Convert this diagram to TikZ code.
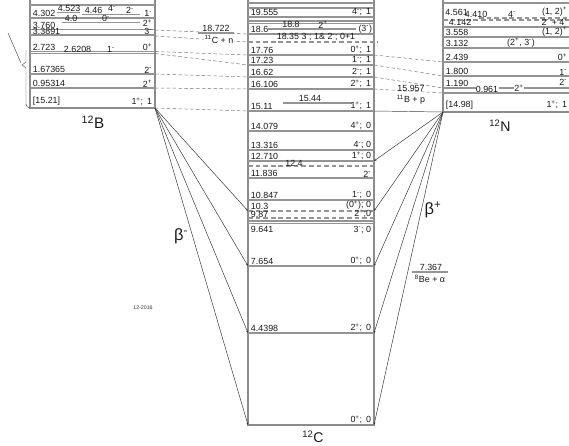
\documentclass[tikz,border=0pt]{standalone}
\usepackage{fontspec}
\setmainfont{Liberation Sans}
\usetikzlibrary{arrows.meta,positioning,calc}
\newcommand{\sPlus}{\textsuperscript{+}}
\newcommand{\sMinus}{\textsuperscript{-}}

\begin{document}
\begin{tikzpicture}[x=0.03cm, y=-0.03cm,
  lvl/.style={draw=black!42, line width=1.1pt},
  lvldash/.style={draw=black!42, line width=0.9pt, dash pattern=on 4pt off 2.5pt},
  frame/.style={draw=black!45, line width=1pt},
  elab/.style={font=\fontsize{7.6}{8}\selectfont, text=black!90, inner sep=0.6pt, anchor=south west},
  jlab/.style={elab, anchor=south east},
  clab/.style={elab, anchor=south},
  link/.style={draw=black!55, line width=0.4pt, dash pattern=on 3pt off 2pt},
  decay/.style={draw=black!80, line width=0.4pt, -{Stealth[length=2.2pt,width=1.6pt]}},
  nucl/.style={font=\fontsize{12}{14}\selectfont, text=black!90, inner sep=0pt},
  note/.style={font=\fontsize{7.6}{8}\selectfont, text=black!90, inner sep=0.6pt},
]
  \useasboundingbox (0,0) rectangle (569,445);
  \clip (0,0) rectangle (569,445);

  % ===== 12B (left) =====
  \draw[frame] (30,0) -- (30,108) -- (155,108) coordinate (bgs) -- (155,0);
  \draw[lvl] (30,5) -- (155,5);
  \draw[lvl] (57,12.5) -- (80,12.5);
  \node[elab] (b4523) at (57,12.5) {4.523};
  \draw[lvl] (82,14.5) -- (140,14.5);
  \node[elab] (b446) at (84,14.5) {4.46};
  \node[clab] (b446j) at (112,12.5) {4\sMinus};
  \node[clab] (b446k) at (130,14.5) {2\sMinus};
  \draw[lvl] (30,18) -- (155,18);
  \node[elab] (b4302) at (32,18) {4.302};
  \node[jlab] (b4302j) at (153,17.5) {1\sMinus};
  \draw[lvl] (62,22.5) -- (140,22.5);
  \node[elab] (b40) at (64,22.5) {4.0};
  \node[clab] (b40j) at (106,22.5) {0\sMinus};
  \draw[lvl] (30,29.5) -- (155,29.5);
  \node[elab] (b3760) at (32,30) {3.760};
  \node[jlab] (b3760j) at (153,27.5) {2\sPlus};
  \draw[lvl] (30,35) -- (155,35);
  \node[elab] (b3389) at (32,35.5) {3.3891};
  \node[jlab] (b3389j) at (153,35.5) {3\sMinus};
  \draw[lvl] (30,51.5) -- (155,51.5);
  \draw[lvl] (30,53.5) -- (155,53.5);
  \node[elab] (b2723) at (32,51.5) {2.723};
  \node[elab] (b2621) at (63,53.5) {2.6208};
  \node[clab] (b2621j) at (111,53.5) {1\sMinus};
  \node[jlab] (b2723j) at (153,51.5) {0\sPlus};
  \draw[lvl] (30,74) -- (155,74);
  \node[elab] (b1674) at (32,74) {1.67365};
  \node[jlab] (b1674j) at (153,74) {2\sMinus};
  \draw[lvl] (30,88) -- (155,88);
  \node[elab] (b0953) at (32,88) {0.95314};
  \node[jlab] (b0953j) at (153,88) {2\sPlus};
  \node[elab] (bgsE) at (32,106) {[15.21]};
  \node[jlab] (bgsJ) at (153,107) {1\sPlus; \,1};
  \node[nucl, font=\fontsize{13}{15}\selectfont] (lblB) at (93,122) {\textsuperscript{12}B};
  % bracket on the left
  \draw[black!70, line width=0.4pt] (26,50) -- (26,62) -- (22,65) -- (26,68) -- (26,104)
       to[out=-90, in=180] (30,108);
  \draw[black!70, line width=0.4pt] (8,33) -- (21,63);

  % ===== 12C (middle) =====
  \draw[frame] (248,0) -- (248,425) coordinate (c0L) -- (374,425) coordinate (c0R) -- (374,0);
  \draw[lvl] (248,3) -- (374,3);
  \draw[lvl] (248,8) -- (374,8);
  \draw[lvl] (248,17) -- (374,17);
  \node[elab] (c19555) at (250,17) {19.555};
  \node[jlab] (c19555j) at (372,17) {4\sMinus; \,1};
  \draw[lvl] (248,21) -- (374,21);
  \draw[lvl] (248,23.5) -- (374,23.5);
  \draw[lvl] (268,29) -- (356,29);
  \node[clab] (c188) at (291,29) {18.8};
  \node[clab] (c188j) at (323,29) {2\sPlus};
  \draw[lvl] (248,34) coordinate (c186L) -- (374,34);
  \node[elab] (c186) at (250,34) {18.6};
  \node[jlab] (c186j) at (373,34) {(3\sMinus)};
  \draw[lvldash] (248,42) coordinate (c1835L) -- (378,42);
  \node[clab] (c1835) at (316,41.5) {18.35 3\sMinus; 1\& 2\sMinus; 0+1};
  \draw[lvl] (248,55) coordinate (c1776L) -- (374,55) coordinate (c1776R);
  \node[elab] (c1776) at (250,55) {17.76};
  \node[jlab] (c1776j) at (372,55) {0\sPlus; \,1};
  \draw[lvl] (248,65) coordinate (c1723L) -- (374,65) coordinate (c1723R);
  \node[elab] (c1723) at (250,65) {17.23};
  \node[jlab] (c1723j) at (372,65) {1\sMinus; \,1};
  \draw[lvl] (248,77) coordinate (c1662L) -- (374,77) coordinate (c1662R);
  \node[elab] (c1662) at (250,77) {16.62};
  \node[jlab] (c1662j) at (372,77) {2\sMinus; \,1};
  \draw[lvl] (248,89) coordinate (c1611L) -- (374,89) coordinate (c1611R);
  \node[elab] (c1611) at (250,89) {16.106};
  \node[jlab] (c1611j) at (372,89) {2\sPlus; \,1};
  \draw[lvl] (283,103) -- (352,103);
  \node[clab] (c1544) at (310,103) {15.44};
  \draw[lvl] (248,111) coordinate (c1511L) -- (374,111) coordinate (c1511R);
  \node[elab] (c1511) at (250,111) {15.11};
  \node[jlab] (c1511j) at (372,111) {1\sPlus; \,1};
  \draw[lvl] (248,131) -- (374,131);
  \node[elab] (c1408) at (250,131) {14.079};
  \node[jlab] (c1408j) at (372,131) {4\sPlus; \,0};
  \draw[lvl] (248,150) -- (374,150);
  \node[elab] (c1332) at (250,150) {13.316};
  \node[jlab] (c1332j) at (372,150) {4\sMinus; 0};
  \draw[lvl] (248,161) -- (374,161) coordinate (c1271R);
  \node[elab] (c1271) at (250,161) {12.710};
  \node[jlab] (c1271j) at (372,161) {1\sPlus; 0};
  \draw[lvldash] (248,166) -- (374,166);
  \node[clab] (c124) at (294,167) {12.4};
  \draw[lvl] (248,178) -- (374,178);
  \node[elab] (c1184) at (250,178) {11.836};
  \node[jlab] (c1184j) at (372,178) {2\sMinus};
  \draw[lvl] (248,200) -- (374,200);
  \node[elab] (c1085) at (250,200) {10.847};
  \node[jlab] (c1085j) at (372,200) {1\sMinus; \,0};
  \draw[lvldash] (248,211) coordinate (c103L) -- (374,211) coordinate (c103R);
  \node[elab] (c103) at (250,210.5) {10.3};
  \node[jlab] (c103j) at (372,210.5) {(0\sPlus); 0};
  \draw[lvldash] (248,218) -- (374,218);
  \node[elab] (c987) at (250,218.5) {9.87};
  \node[jlab] (c987j) at (372,219) {2\sPlus;0};
  \draw[lvl] (248,221) -- (374,221);
  \draw[lvl] (248,223.5) -- (374,223.5);
  \node[elab, anchor=north west] (c964) at (250,225) {9.641};
  \node[jlab, anchor=north east] (c964j) at (372,225) {3\sMinus; 0};
  \draw[lvl] (248,266) coordinate (c765L) -- (374,266) coordinate (c765R);
  \node[elab] (c765) at (250,266) {7.654};
  \node[jlab] (c765j) at (372,266) {0\sPlus; \,0};
  \draw[lvl] (248,333) coordinate (c444L) -- (374,333) coordinate (c444R);
  \node[elab] (c444) at (250,333) {4.4398};
  \node[jlab] (c444j) at (372,333) {2\sPlus; \,0};
  \node[jlab] (c0j) at (372,425) {0\sPlus; \,0};
  \node[nucl] (lblC) at (313,437) {\textsuperscript{12}C};

  % ===== 12N (right) =====
  \draw[frame] (443,0) -- (443,112) coordinate (ngs) -- (569,112);
  \draw[lvl] (443,3) -- (569,3);
  \draw[lvldash] (479,18) -- (569,18);
  \node[elab] (n4561) at (444.5,17) {4.561};
  \node[elab] (n4410) at (464,19) {4.410};
  \node[clab] (n4410j) at (512,18) {4\sMinus};
  \node[jlab] (n4561j) at (568,17) {(1, 2)\sPlus};
  \draw[lvldash] (443,20) -- (569,20);
  \node[elab] (n4142) at (448,26) {4.142};
  \node[jlab] (n4142j) at (568,26) {2\sMinus{} + 4\sMinus};
  \draw[lvl] (443,27) -- (569,27);
  \draw[lvl] (443,37) -- (569,37);
  \node[elab] (n3558) at (445,37) {3.558};
  \node[jlab] (n3558j) at (568,37) {(1, 2)\sPlus};
  \draw[lvl] (443,48) -- (569,48);
  \node[elab] (n3132) at (445,48) {3.132};
  \node[clab] (n3132j) at (521,48) {(2\sPlus, 3\sMinus)};
  \draw[lvl] (443,62) coordinate (n2439L) -- (569,62);
  \node[elab] (n2439) at (445,62) {2.439};
  \node[jlab] (n2439j) at (568,62) {0\sPlus};
  \draw[lvl] (443,76) coordinate (n1800L) -- (569,76);
  \node[elab] (n1800) at (445,76) {1.800};
  \node[jlab] (n1800j) at (568,76) {1\sMinus};
  \draw[lvl] (443,88) coordinate (n1190L) -- (569,88);
  \node[elab] (n1190) at (445,88) {1.190};
  \node[jlab] (n1190j) at (568,86) {2\sMinus};
  \node[note, fill=white, inner sep=0.3pt] (n0961) at (487,89) {0.961};
  \node[note, fill=white, inner sep=0.3pt] (n0961j) at (519,88) {2\sPlus};
  \draw[lvl] (443,93) coordinate (n0961L) -- (569,93);
  \node[elab] (ngsE) at (445,110) {[14.98]};
  \node[jlab] (ngsJ) at (568,110) {1\sPlus; \,1};
  \node[nucl] (lblN) at (500,126) {\textsuperscript{12}N};

  % ===== analog states and thresholds =====
  \draw[link] (155,30) -- (c186L);
  \draw[lvl] (198,33) -- (234,33);
  \node[note, anchor=south] (thrN) at (216,33) {18.722};
  \draw[link] (155,36) -- (c1835L);
  \node[note, fill=white] (thrNlbl) at (219,39.5) {\textsuperscript{11}C + n};
  \draw[link] (155,51.5) -- (c1776L);
  \draw[link] (155,53.5) -- (c1723L);
  \draw[link] (155,74) -- (c1662L);
  \draw[link] (155,88) -- (c1611L);
  \draw[link] (bgs) -- (c1511L);
  \draw[link] (c1776R) -- (n2439L);
  \draw[link] (c1723R) -- (n1800L);
  \draw[link] (c1662R) -- (n1190L);
  \draw[link] (c1611R) -- (n0961L);
  \node[note, anchor=south] (thrP) at (411,92.5) {15.957};
  \node[note] (thrPlbl) at (411,100) {\textsuperscript{11}B + p};
  \draw[black!75, line width=0.4pt] (c1511R) -- (ngs);

  % ===== beta decays =====
  \draw[decay] (bgs) -- (c103L);
  \draw[decay] (bgs) -- (c765L);
  \draw[decay] (bgs) -- (c444L);
  \draw[decay] (bgs) -- (c0L);
  \draw[decay] (ngs) -- (c1271R);
  \draw[decay] (ngs) -- (c103R);
  \draw[decay] (ngs) -- (c765R);
  \draw[decay] (ngs) -- (c444R);
  \draw[decay] (ngs) -- (c0R);
  \node[nucl, font=\fontsize{14}{16}\selectfont] (betaM) at (181,236) {β\textsuperscript{-}};
  \node[nucl, font=\fontsize{14}{16}\selectfont] (betaP) at (433,210) {β\textsuperscript{+}};

  % ===== 8Be + alpha threshold =====
  \draw[lvl] (412,272) -- (448,272);
  \node[note, anchor=south] (thrA) at (431,272) {7.367};
  \node[note] (thrAlbl) at (430,279) {\textsuperscript{8}Be + α};

  \node[font=\fontsize{4.5}{5}\selectfont, text=black!80] (stamp) at (143,308) {12-2016};
\end{tikzpicture}
\end{document}
